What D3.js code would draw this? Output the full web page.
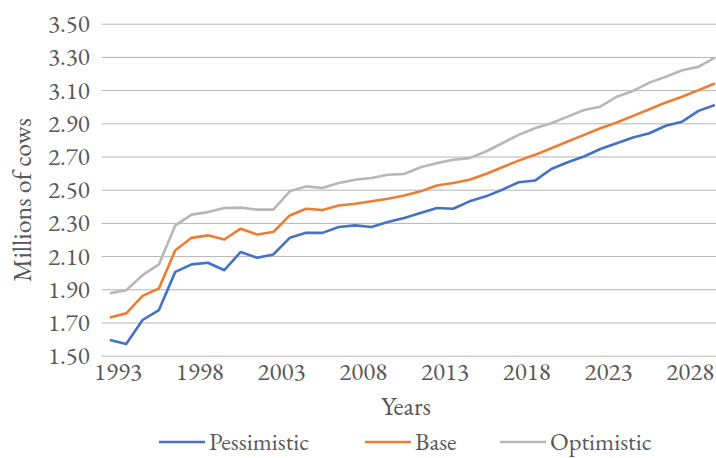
<!DOCTYPE html>
<html>
<head>
<meta charset="utf-8">
<script src="https://cdn.jsdelivr.net/npm/d3@7"></script>
<style>
  body { margin: 0; background: #fff; }
</style>
</head>
<body>
<div id="chart"></div>
<script>
const years = d3.range(1993, 2031);
const pessimistic = [1.595, 1.57, 1.715, 1.775, 2.005, 2.05, 2.06, 2.015, 2.125, 2.09, 2.11, 2.21, 2.24, 2.24, 2.275, 2.285, 2.275, 2.305, 2.33, 2.36, 2.39, 2.385, 2.43, 2.46, 2.50, 2.545, 2.555, 2.625, 2.665, 2.70, 2.745, 2.78, 2.815, 2.84, 2.885, 2.91, 2.975, 3.01];
const base = [1.73, 1.755, 1.86, 1.905, 2.135, 2.21, 2.225, 2.20, 2.265, 2.23, 2.245, 2.345, 2.385, 2.378, 2.405, 2.415, 2.43, 2.445, 2.465, 2.49, 2.525, 2.54, 2.56, 2.595, 2.635, 2.675, 2.71, 2.75, 2.79, 2.83, 2.87, 2.905, 2.945, 2.985, 3.025, 3.06, 3.10, 3.14];
const optimistic = [1.876, 1.895, 1.985, 2.05, 2.285, 2.35, 2.365, 2.39, 2.392, 2.38, 2.38, 2.49, 2.52, 2.51, 2.54, 2.56, 2.57, 2.59, 2.595, 2.635, 2.66, 2.68, 2.69, 2.73, 2.78, 2.83, 2.87, 2.90, 2.94, 2.98, 3.00, 3.06, 3.095, 3.145, 3.18, 3.22, 3.24, 3.295];
const seriesNames = ["Pessimistic", "Base", "Optimistic"];
const seriesColors = ["#4472C4", "#ED7D31", "#B7B7B7"];
const yTicks = [1.5, 1.7, 1.9, 2.1, 2.3, 2.5, 2.7, 2.9, 3.1, 3.3, 3.5];
const xTicks = [1993, 1998, 2003, 2008, 2013, 2018, 2023, 2028];

const width = 716, height = 458;
const plotLeft = 101.7, plotRight = 723, plotTop = 23.7, plotBottom = 355.7;
const fontFamily = "EB Garamond, Liberation Serif, serif";
const fontSize = "25px";
const textColor = "#595959";

const svg = d3.select("#chart").append("svg")
    .attr("width", width)
    .attr("height", height);

const band = (plotRight - plotLeft) / years.length;
const xScale = d3.scalePoint()
    .domain(years)
    .range([plotLeft + band / 2, plotRight - band / 2]);
const yScale = d3.scaleLinear()
    .domain([1.5, 3.5])
    .range([plotBottom, plotTop]);

// grid + y labels
const yAxis = d3.axisLeft(yScale)
    .tickValues(yTicks)
    .tickFormat(d3.format(".2f"))
    .tickSize(-(plotRight - plotLeft))
    .tickPadding(12);
const yAxisG = svg.append("g")
    .attr("transform", `translate(${plotLeft},0)`)
    .call(yAxis);
yAxisG.select(".domain").remove();
yAxisG.selectAll("line").attr("stroke", "#b5b5b5").attr("stroke-width", 1);

// x labels
const xAxis = d3.axisBottom(xScale)
    .tickValues(xTicks)
    .tickSize(0)
    .tickPadding(6.5);
const xAxisG = svg.append("g")
    .attr("transform", `translate(7.5,${plotBottom})`)
    .call(xAxis);
xAxisG.select(".domain").remove();

// axis titles
svg.append("text")
    .attr("x", 406)
    .attr("y", 415)
    .attr("text-anchor", "middle")
    .attr("class", "title")
    .text("Years");
svg.append("text")
    .attr("transform", `translate(31,200) rotate(-90)`)
    .attr("text-anchor", "middle")
    .attr("class", "title")
    .text("Millions of cows");

// lines
const line = d3.line()
    .x((d, i) => xScale(years[i]))
    .y(d => yScale(d));
const allSeries = [pessimistic, base, optimistic];
svg.selectAll("path.series")
    .data(allSeries)
    .enter()
    .append("path")
    .attr("class", "series")
    .attr("fill", "none")
    .attr("stroke", (d, i) => seriesColors[i])
    .attr("stroke-width", 2.6)
    .attr("stroke-linejoin", "round")
    .attr("d", line);

// legend
const legendX = [159, 365, 500];
const legend = svg.selectAll("g.legend")
    .data(seriesNames)
    .enter()
    .append("g")
    .attr("class", "legend")
    .attr("transform", (d, i) => `translate(${legendX[i]},442)`);
legend.append("line")
    .attr("x1", 0).attr("x2", 46)
    .attr("stroke", (d, i) => seriesColors[i])
    .attr("stroke-width", 2.6);
legend.append("text")
    .attr("x", 50)
    .attr("y", 8)
    .text(d => d);

svg.selectAll("text")
    .style("font-family", fontFamily)
    .style("font-size", fontSize)
    .style("fill", textColor);
svg.selectAll("text.title").style("font-size", "26px");
svg.selectAll("g.legend text").style("font-size", "24.5px");
</script>
</body>
</html>
